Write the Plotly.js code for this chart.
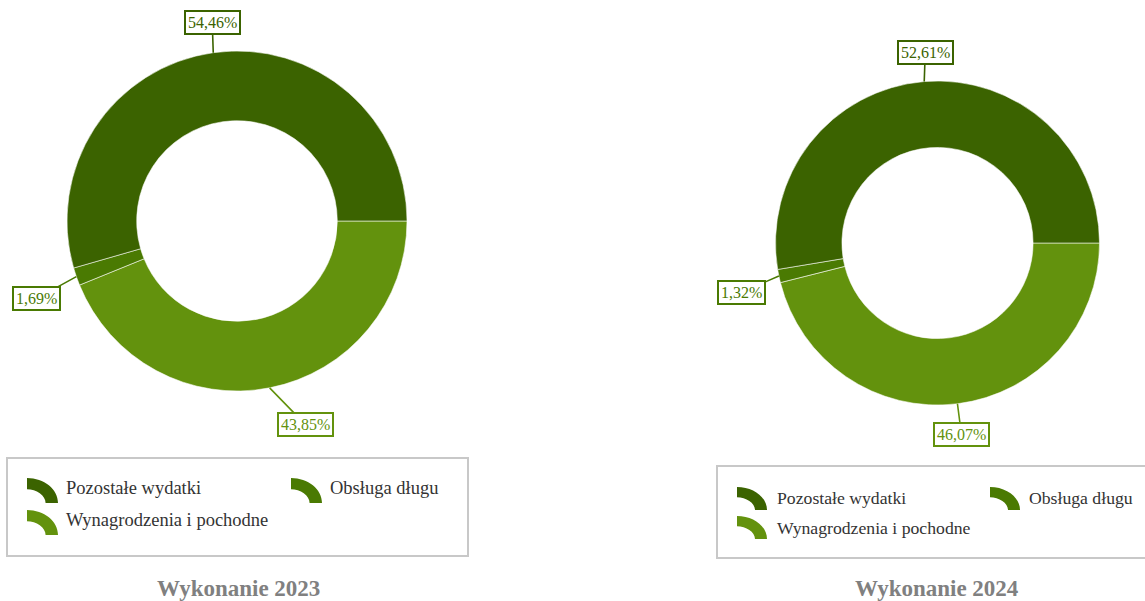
<!DOCTYPE html>
<html>
<head>
<meta charset="utf-8">
<script src="https://cdn.plot.ly/plotly-3.0.1.min.js"></script>
<style>html,body{margin:0;padding:0;background:#fff;}#chart{width:1145px;height:601px;}</style>
</head>
<body>
<div id="chart"></div>
<script>
// ---- data ----
const categories = ['Pozostałe wydatki', 'Obsługa długu', 'Wynagrodzenia i pochodne'];
const values2023 = [54.46, 1.69, 43.85];
const values2024 = [52.61, 1.32, 46.07];
const chartTitles = ['Wykonanie 2023', 'Wykonanie 2024'];
const sliceColors = ['#3b6300', '#4a7a02', '#63920d'];

// ---- layout (pixels) ----
const W = 1145, H = 601;
const FONT = 'Liberation Serif, Times New Roman, serif';
const charts = [
  { values: values2023, title: chartTitles[0], cx: 237, cy: 221, r: 170,
    labelOffsets: [[-1, -30], [-40, 22], [36, 37]],
    legendBox: [7, 458, 468, 556],
    legendItems: [[27, 478, 64, 488, 18.5], [291, 478, 328, 488, 18.5], [27, 510, 64, 520, 18.5]],
    symbol: [31, 25],
    titlePos: [238, 588] },
  { values: values2024, title: chartTitles[1], cx: 937.5, cy: 243, r: 162,
    labelOffsets: [[1, -29], [-37, 16], [4, 31]],
    legendBox: [717, 466, 1150, 558],
    legendItems: [[737, 487, 775, 498, 17.7], [990, 487, 1027, 498, 17.7], [737, 516, 775, 528, 17.7]],
    symbol: [30, 23],
    titlePos: [937, 588] }
];

const px = x => x / W;
const py = y => 1 - y / H;
const fmt = v => v.toFixed(2).replace('.', ',') + '%';

const traces = [], annotations = [], shapes = [];

charts.forEach((c, k) => {
  // slices run counter-clockwise from 3 o'clock in category order;
  // Plotly draws clockwise, so feed the categories in reverse order.
  traces.push({
    type: 'pie',
    values: c.values.slice().reverse(),
    labels: categories.slice().reverse(),
    sort: false,
    direction: 'clockwise',
    rotation: 90,
    hole: 0.59,
    textinfo: 'none',
    hoverinfo: 'label+percent',
    showlegend: false,
    marker: { colors: sliceColors.slice().reverse(), line: { color: 'rgba(255,255,255,0.55)', width: 1 } },
    domain: { x: [px(c.cx - c.r), px(c.cx + c.r)], y: [py(c.cy + c.r), py(c.cy - c.r)] }
  });

  // percentage labels with leader lines
  const total = c.values.reduce((a, b) => a + b, 0);
  let cum = 0;
  c.values.forEach((v, i) => {
    const mid = (cum + v / 2) / total * 2 * Math.PI;
    cum += v;
    const tx = c.cx + c.r * Math.cos(mid);
    const ty = c.cy - c.r * Math.sin(mid);
    annotations.push({
      xref: 'paper', yref: 'paper', x: px(tx), y: py(ty),
      ax: c.labelOffsets[i][0], ay: c.labelOffsets[i][1],
      text: fmt(v / total * 100),
      showarrow: true, arrowhead: 0, arrowwidth: 1.6, arrowcolor: sliceColors[i],
      standoff: 0, startstandoff: 0,
      font: { family: FONT, size: 16, color: sliceColors[i] },
      bgcolor: '#ffffff', bordercolor: sliceColors[i], borderwidth: 2, borderpad: 2
    });
  });

  // legend box
  const b = c.legendBox;
  shapes.push({ type: 'rect', xref: 'paper', yref: 'paper',
    x0: px(b[0]), x1: px(b[2]), y0: py(b[3]), y1: py(b[1]),
    line: { color: '#c8c8c8', width: 2 }, fillcolor: 'rgba(0,0,0,0)' });

  // legend entries
  categories.forEach((name, i) => {
    const it = c.legendItems[i];
    const x0 = it[0], y0 = it[1], w = c.symbol[0], h = c.symbol[1];
    const t = w * 0.4;
    const P = (x, y) => px(x0 + x) + ',' + py(y0 + y);
    const path = 'M' + P(0, 0) +
      ' C' + P(w * 0.55, 0) + ' ' + P(w, h * 0.45) + ' ' + P(w, h) +
      ' L' + P(w - t, h) +
      ' C' + P(w - t, h * 0.7) + ' ' + P(w * 0.3, h * 0.45) + ' ' + P(0, h * 0.45) + ' Z';
    shapes.push({ type: 'path', xref: 'paper', yref: 'paper', path: path,
      fillcolor: sliceColors[i], line: { width: 0 } });
    annotations.push({
      xref: 'paper', yref: 'paper', x: px(it[2]), y: py(it[3]),
      xanchor: 'left', yanchor: 'middle', showarrow: false, text: name,
      font: { family: FONT, size: it[4], color: '#333333' }
    });
  });

  // chart title
  annotations.push({
    xref: 'paper', yref: 'paper', x: px(c.titlePos[0]), y: py(c.titlePos[1]),
    xanchor: 'center', yanchor: 'middle', showarrow: false,
    text: '<b>' + c.title + '</b>',
    font: { family: FONT, size: 23, color: '#808080' }
  });
});

const layout = {
  width: W, height: H, autosize: false,
  margin: { l: 0, r: 0, t: 0, b: 0 },
  paper_bgcolor: '#ffffff', plot_bgcolor: '#ffffff',
  showlegend: false,
  annotations: annotations,
  shapes: shapes
};

Plotly.newPlot('chart', traces, layout, { displayModeBar: false, staticPlot: true });
</script>
</body>
</html>
